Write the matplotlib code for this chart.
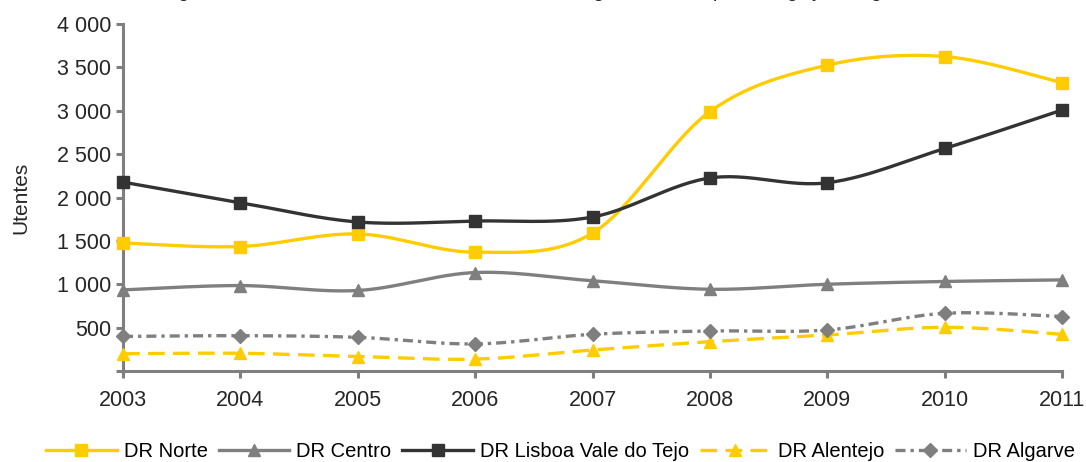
import numpy as np
import matplotlib
matplotlib.use("Agg")
import matplotlib.pyplot as plt
from matplotlib.ticker import FuncFormatter

years = [2003, 2004, 2005, 2006, 2007, 2008, 2009, 2010, 2011]
norte = [1475, 1435, 1580, 1370, 1590, 2990, 3525, 3625, 3325]
centro = [935, 985, 928, 1135, 1040, 942, 1000, 1032, 1050]
lisboa = [2177, 1940, 1718, 1729, 1775, 2225, 2170, 2565, 3008]
alentejo = [198, 204, 167, 137, 242, 338, 415, 504, 423]
algarve = [398, 407, 388, 312, 423, 461, 473, 665, 628]

series_names = ["DR Norte", "DR Centro", "DR Lisboa Vale do Tejo", "DR Alentejo", "DR Algarve"]
y_ticks = [0, 500, 1000, 1500, 2000, 2500, 3000, 3500, 4000]

plt.rcParams['font.family'] = ['Liberation Sans', 'DejaVu Sans']


def smooth(x, y, n=30):
    """Excel-like smoothed line (Catmull-Rom Bezier)."""
    x = np.asarray(x, float)
    y = np.asarray(y, float)
    px = np.concatenate([[x[0]], x, [x[-1]]])
    py = np.concatenate([[y[0]], y, [y[-1]]])
    xs, ys = [], []
    t = np.linspace(0, 1, n)
    for i in range(1, len(px) - 2):
        p0 = np.array([px[i], py[i]])
        p3 = np.array([px[i + 1], py[i + 1]])
        p1 = p0 + (np.array([px[i + 1], py[i + 1]]) - np.array([px[i - 1], py[i - 1]])) / 6
        p2 = p3 - (np.array([px[i + 2], py[i + 2]]) - np.array([px[i], py[i]])) / 6
        b = ((1 - t) ** 3)[:, None] * p0 + (3 * (1 - t) ** 2 * t)[:, None] * p1 + \
            (3 * (1 - t) * t ** 2)[:, None] * p2 + (t ** 3)[:, None] * p3
        xs.extend(b[:, 0])
        ys.extend(b[:, 1])
    return np.array(xs), np.array(ys)


fig = plt.figure(figsize=(10.86, 4.62), dpi=100)
ax = fig.add_axes([0.1133, 0.197, 0.8646, 0.751])

YEL = "#FFCC00"
DARK = "#333333"
GRAY = "#7F7F7F"
TXT = "#262626"

styles = [
    (norte, YEL, '-', 's', 8),
    (centro, GRAY, '-', '^', 9),
    (lisboa, DARK, '-', 's', 8),
    (alentejo, YEL, (0, (5, 2.5)), '^', 9),
    (algarve, GRAY, (0, (3, 1.5, 1, 1.5)), 'D', 7),
]

handles = []
for (vals, col, ls, mk, ms), name in zip(styles, series_names):
    sx, sy = smooth(years, vals)
    ax.plot(sx, sy, color=col, lw=2.4, ls=ls, zorder=3, clip_on=False)
    ax.plot(years, vals, ls='none', marker=mk, ms=ms, color=col, zorder=4, clip_on=False)
    h, = ax.plot([], [], color=col, lw=2.4, ls=ls, marker=mk, ms=ms)
    handles.append(h)

ax.set_xlim(2003, 2011)
ax.set_ylim(0, 4000)
ax.set_xticks(years)
ax.set_yticks(y_ticks)


def fmt(v, pos):
    if v == 0:
        return ""
    return f"{int(v):,}".replace(",", " ")


ax.yaxis.set_major_formatter(FuncFormatter(fmt))

for side in ["top", "right"]:
    ax.spines[side].set_visible(False)
for side in ["left", "bottom"]:
    ax.spines[side].set_color(GRAY)
    ax.spines[side].set_linewidth(2.2)

ax.tick_params(axis='both', colors=GRAY, width=2.2, length=5, labelsize=15.5,
               labelcolor=TXT, direction='out')
ax.tick_params(axis='y', pad=3.5)
ax.tick_params(axis='x', pad=9)

ax.set_ylabel("Utentes", fontsize=15, color=TXT, labelpad=19)

fig.legend(handles, series_names, loc='center', bbox_to_anchor=(0.516, 0.022),
           ncol=5, frameon=False, fontsize=14.5, handlelength=3.5,
           columnspacing=0.55, handletextpad=0.35, borderaxespad=0)

fig.text(0.5, 1.016, "Figura 4 - Utentes em Tratamento Substitutivo, segundo o ano, por Delegação Regional",
         ha='center', va='center', fontsize=14, color=TXT)

fig.savefig("out.png", dpi=100)
